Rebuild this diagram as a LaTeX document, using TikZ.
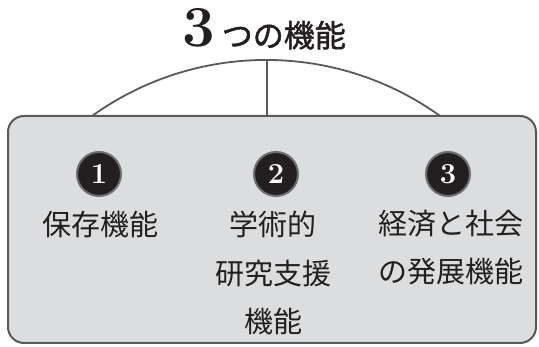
\documentclass[tikz,border=0pt]{standalone}
\usepackage{fontspec}
\newfontfamily\cjk{Noto Sans CJK JP}
\newfontfamily\cjkb{Noto Sans CJK JP}[FakeBold=1.5]
\definecolor{ink}{HTML}{231F20}
\definecolor{edge}{HTML}{58595B}
\definecolor{panel}{HTML}{DCDDDE}
\definecolor{ring}{HTML}{6D6E71}
\tikzset{
  panelbox/.style={draw=edge, fill=panel, line width=2pt, rounded corners=16pt,
    minimum width=528pt, minimum height=227pt, inner sep=0pt},
  numdisc/.style={circle, fill=ink, draw=ring, line width=2pt, minimum size=44pt,
    inner sep=0pt, text=white, font=\fontsize{29}{29}\selectfont\bfseries},
  label/.style={text=ink, align=center, anchor=base, inner sep=0pt,
    font=\cjk\fontsize{29}{48.5}\selectfont},
  linkline/.style={draw=edge, line width=1.8pt}
}
\begin{document}
\begin{tikzpicture}[x=1pt, y=-1pt]
\useasboundingbox (0,0) rectangle (539,347);
\node[anchor=base, text=ink, inner sep=0pt] (title) at (264,47)
  {{\fontsize{58}{58}\selectfont\bfseries 3}\hspace{7pt}{\cjkb\fontsize{31}{31}\selectfont つの機能}};
\node[panelbox] (box) at (272,229.5) {};
\coordinate (L) at (92,116);
\coordinate (R) at (440,116);
\coordinate (top) at (267,60);
\coordinate (mid) at (267,116);
\draw[linkline] (L) arc[start angle=-125.7, end angle=-54.3, radius=298.3];
\draw[linkline] (top) -- (mid);
\node[numdisc] (n1) at (99,174) {1};
\node[numdisc] (n2) at (276,174) {2};
\node[numdisc] (n3) at (448,174) {3};
\node[label] (t1) at (100,236) {保存機能};
\node[label] (t2) at (273,333) {学術的\\研究支援\\機能};
\node[label] (t3) at (451,283) {経済と社会\\の発展機能};
\end{tikzpicture}
\end{document}
